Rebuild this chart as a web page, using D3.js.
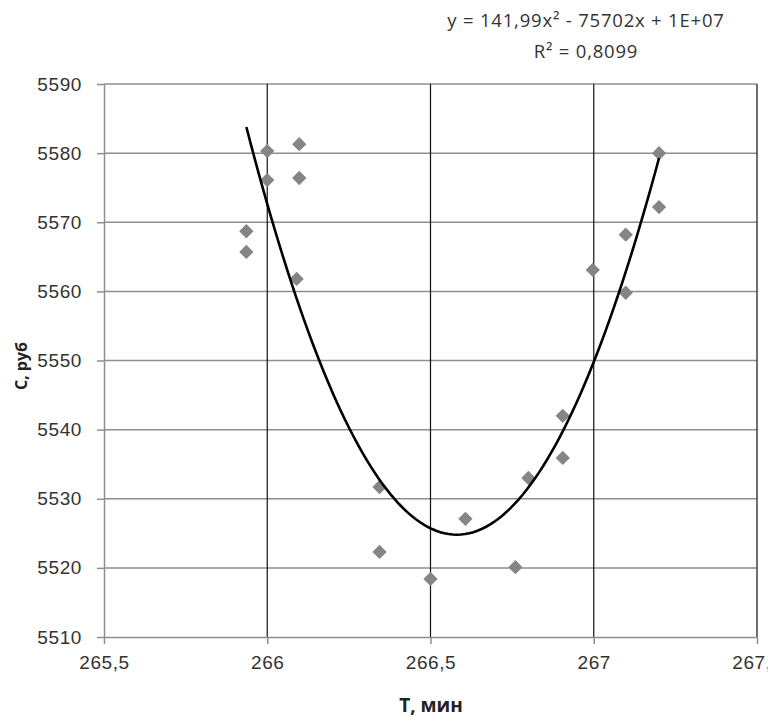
<!DOCTYPE html>
<html>
<head>
<meta charset="utf-8">
<script src="https://cdn.jsdelivr.net/npm/d3@7"></script>
<style>
    body { margin: 0; background: #fff; }
    svg { display: block; font-family: "Open Sans", sans-serif; }
</style>
</head>
<body>
<div id="chart"></div>
<script>
// observed points (T, C)
var tValues = [265.936, 265.936, 266.0, 266.0, 266.098, 266.098, 266.09, 266.344, 266.344, 266.5,
               266.607, 266.76, 266.8, 266.905, 266.905, 266.997, 267.098, 267.098, 267.2, 267.2];
var cValues = [5568.7, 5565.7, 5580.3, 5576.1, 5581.3, 5576.4, 5561.8, 5531.7, 5522.3, 5518.4,
               5527.1, 5520.1, 5533.0, 5535.9, 5542.0, 5563.1, 5568.2, 5559.8, 5572.2, 5580.0];

// trendline: curvature from the label, lowest point
var trendA = 141.99;
var trendVertex = [266.5805, 5524.8];

var xTicks = [265.5, 266, 266.5, 267, 267.5];
var yTicks = [5510, 5520, 5530, 5540, 5550, 5560, 5570, 5580, 5590];

var equationLabel = "y = 141,99x² - 75702x + 1E+07";
var r2Label = "R² = 0,8099";
var xTitle = "T, мин";
var yTitle = "C, руб";

var width = 768, height = 725;
var margin = { top: 84, right: 11, bottom: 88, left: 104 };

var x = d3.scaleLinear().domain([265.5, 267.5]).range([margin.left, width - margin.right]);
var y = d3.scaleLinear().domain([5510, 5590]).range([height - margin.bottom, margin.top]);

var svg = d3.select("#chart").append("svg")
    .attr("width", width)
    .attr("height", height);

// horizontal gridlines (grey)
svg.append("g").selectAll("line")
    .data(yTicks.slice(1))
    .enter().append("line")
    .attr("x1", x(265.5)).attr("x2", x(267.5))
    .attr("y1", function (d) { return y(d); })
    .attr("y2", function (d) { return y(d); })
    .attr("stroke", "#8e8e8e")
    .attr("stroke-width", 1.5);

// vertical gridlines (black)
svg.append("g").selectAll("line")
    .data(xTicks.slice(1))
    .enter().append("line")
    .attr("x1", function (d) { return x(d); })
    .attr("x2", function (d) { return x(d); })
    .attr("y1", y(5590)).attr("y2", y(5510))
    .attr("stroke", "#111")
    .attr("stroke-width", 1.2);

// axes
var fmt = function (d) { return String(d).replace(".", ","); };

var yAxis = svg.append("g")
    .attr("transform", "translate(" + x(265.5) + ",0)")
    .call(d3.axisLeft(y).tickValues(yTicks).tickFormat(fmt).tickSize(7).tickPadding(15).tickSizeOuter(0));

var xAxis = svg.append("g")
    .attr("transform", "translate(0," + y(5510) + ")")
    .call(d3.axisBottom(x).tickValues(xTicks).tickFormat(fmt).tickSize(7).tickPadding(12).tickSizeOuter(0));

[xAxis, yAxis].forEach(function (a) {
    a.select(".domain").attr("stroke", "#8e8e8e").attr("stroke-width", 1.5);
    a.selectAll(".tick line").attr("stroke", "#8e8e8e").attr("stroke-width", 1.5);
    a.selectAll(".tick text").attr("fill", "#333")
        .style("font-size", "19px").style("letter-spacing", "0.6px");
});

var tMin = d3.min(tValues), tMax = d3.max(tValues);
var curve = d3.range(0, 101).map(function (i) {
    var t = tMin + (tMax - tMin) * i / 100;
    var u = t - trendVertex[0];
    return [t, trendVertex[1] + trendA * u * u];
});

// markers
svg.append("g").selectAll("path")
    .data(tValues)
    .enter().append("path")
    .attr("d", d3.symbol().type(d3.symbolDiamond2).size(130))
    .attr("transform", function (d, i) { return "translate(" + x(d) + "," + y(cValues[i]) + ")"; })
    .attr("fill", "#858585");

svg.append("path")
    .datum(curve)
    .attr("d", d3.line().x(function (d) { return x(d[0]); }).y(function (d) { return y(d[1]); }))
    .attr("fill", "none")
    .attr("stroke", "#000")
    .attr("stroke-width", 2.6);

// trendline label
var eq = svg.append("g").attr("fill", "#333")
    .style("font-size", "18.5px").style("letter-spacing", "0.8px")
    .attr("text-anchor", "middle");
eq.append("text").attr("x", 586).attr("y", 27).text(equationLabel);
eq.append("text").attr("x", 586).attr("y", 58).text(r2Label);

// axis titles
svg.append("text")
    .attr("x", 431).attr("y", 712)
    .attr("text-anchor", "middle")
    .style("font-size", "19px").style("font-weight", "bold")
    .attr("fill", "#222")
    .text(xTitle);

svg.append("text")
    .attr("transform", "translate(27,366) rotate(-90)")
    .attr("text-anchor", "middle")
    .style("font-size", "16px").style("font-weight", "bold")
    .attr("fill", "#222")
    .text(yTitle);
</script>
</body>
</html>
